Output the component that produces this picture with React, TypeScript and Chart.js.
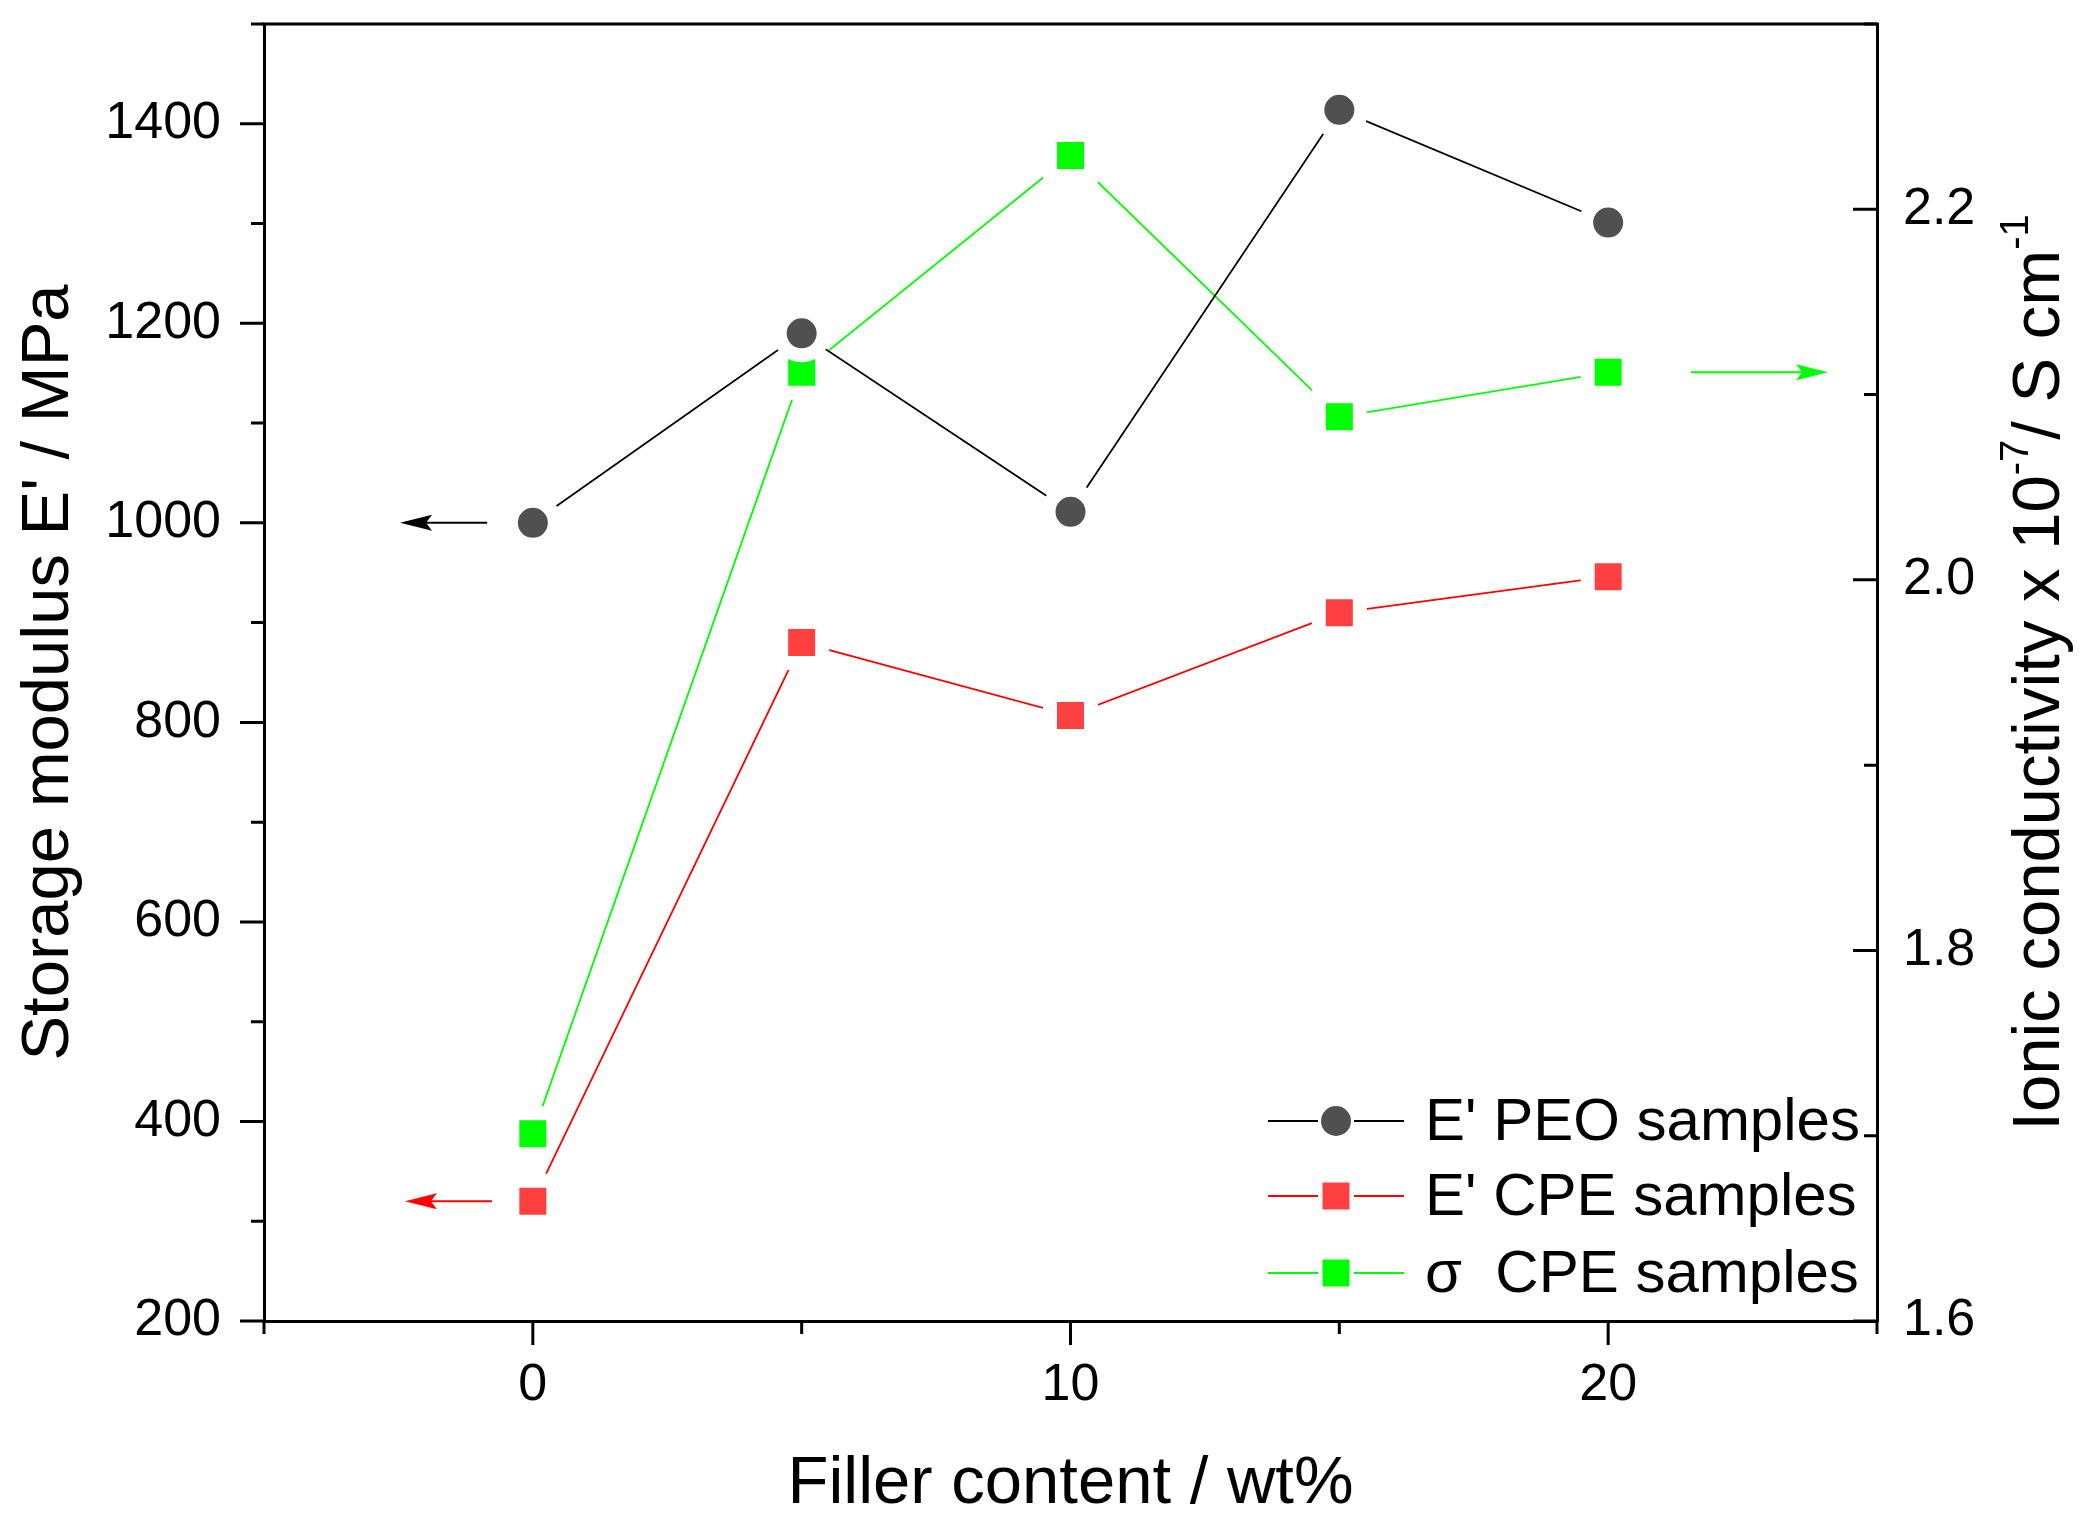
import { useEffect, useRef } from 'react';
import { Chart, registerables } from 'chart.js';

Chart.register(...registerables);

// values
const fillerContent = [0, 5, 10, 15, 20];
const peoModulus = [1000, 1190, 1011, 1414, 1301];
const cpeModulus = [320, 880, 807, 910, 946];
const cpeConductivity = [1.701, 2.112, 2.229, 2.088, 2.112];

const xTickLabels = [0, 10, 20];
const leftTickLabels = [200, 400, 600, 800, 1000, 1200, 1400];
const rightTickLabels = [1.6, 1.8, 2.0, 2.2];

// arrows pointing at the axis each series belongs to (x from / x to)
const arrowFrom = [-0.85, -0.76, 21.54];
const arrowTo = [-2.47, -2.38, 24.09];

const FONT = "'Liberation Sans', Arial, sans-serif";

const seriesStyles = [
    { label: "E' PEO samples", line: '#000000', fill: '#505050', shape: 'circle' },
    { label: "E' CPE samples", line: '#ff0000', fill: '#ff4040', shape: 'rect' },
    { label: 'σ  CPE samples', line: '#00ff00', fill: '#00ff00', shape: 'rect' },
];

const near = (list: number[], v: number) => list.some((t) => Math.abs(t - v) < 1e-6);

const drawMarker = (ctx: CanvasRenderingContext2D, shape: string, x: number, y: number, color: string) => {
    ctx.fillStyle = color;
    ctx.beginPath();
    if (shape === 'circle') ctx.arc(x, y, 15, 0, Math.PI * 2);
    else ctx.rect(x - 13.5, y - 13.5, 27, 27);
    ctx.fill();
};

// no extra room for end labels, the plot box is fixed
const noPad = (s: any) => {
    s.paddingTop = 0;
    s.paddingBottom = 0;
    s.paddingLeft = 0;
    s.paddingRight = 0;
};

const framePlugin = {
    id: 'frame',
    afterDraw(chart: any) {
        const { ctx, chartArea: a, scales } = chart;
        ctx.save();
        ctx.strokeStyle = '#000';
        ctx.lineWidth = 3;
        ctx.lineCap = 'butt';

        // top border
        ctx.beginPath();
        ctx.moveTo(a.left - 1.5, a.top);
        ctx.lineTo(a.right + 1.5, a.top);
        ctx.stroke();

        // tick marks: left & bottom outward, right inward
        ctx.beginPath();
        scales.x.ticks.forEach((t: any) => {
            const px = scales.x.getPixelForValue(t.value);
            const len = near(xTickLabels, t.value) ? 24 : 13;
            ctx.moveTo(px, a.bottom);
            ctx.lineTo(px, a.bottom + len);
        });
        scales.y.ticks.forEach((t: any) => {
            const py = scales.y.getPixelForValue(t.value);
            const len = near(leftTickLabels, t.value) ? 24 : 13;
            ctx.moveTo(a.left, py);
            ctx.lineTo(a.left - len, py);
        });
        scales.y1.ticks.forEach((t: any) => {
            const py = scales.y1.getPixelForValue(t.value);
            const len = near(rightTickLabels, t.value) ? 24 : 13;
            ctx.moveTo(a.right, py);
            ctx.lineTo(a.right - len, py);
        });
        ctx.stroke();

        // arrows
        const arrowY = [
            scales.y.getPixelForValue(peoModulus[0]),
            scales.y.getPixelForValue(cpeModulus[0]),
            scales.y1.getPixelForValue(cpeConductivity[cpeConductivity.length - 1]),
        ];
        arrowY.forEach((py, i) => {
            const x0 = scales.x.getPixelForValue(arrowFrom[i]);
            const x1 = scales.x.getPixelForValue(arrowTo[i]);
            const dir = Math.sign(x1 - x0);
            const color = seriesStyles[i].line;
            ctx.strokeStyle = color;
            ctx.fillStyle = color;
            ctx.lineWidth = 2;
            ctx.beginPath();
            ctx.moveTo(x0, py);
            ctx.lineTo(x1 - dir * 20, py);
            ctx.stroke();
            ctx.beginPath();
            ctx.moveTo(x1, py);
            ctx.lineTo(x1 - dir * 32, py - 8);
            ctx.lineTo(x1 - dir * 26, py);
            ctx.lineTo(x1 - dir * 32, py + 8);
            ctx.closePath();
            ctx.fill();
        });

        // legend inside the plot, lower right
        const legendX = a.left + 1004;
        const rowY = [a.bottom - 200, a.bottom - 125, a.bottom - 48];
        ctx.font = `60px ${FONT}`;
        ctx.textBaseline = 'middle';
        ctx.textAlign = 'left';
        seriesStyles.forEach((s, i) => {
            const y = rowY[i];
            ctx.strokeStyle = s.line;
            ctx.lineWidth = 2;
            ctx.beginPath();
            ctx.moveTo(legendX, y);
            ctx.lineTo(legendX + 50, y);
            ctx.moveTo(legendX + 86, y);
            ctx.lineTo(legendX + 136, y);
            ctx.stroke();
            drawMarker(ctx, s.shape, legendX + 68, y, s.fill);
            ctx.fillStyle = '#000';
            ctx.fillText(s.label, legendX + 157, y + 2);
        });

        // right axis title, read bottom to top, with superscripts
        const parts: [string, boolean][] = [
            ['Ionic conductivity x 10', false],
            ['-7', true],
            ['/ S cm', false],
            ['-1', true],
        ];
        const main = `67px ${FONT}`;
        const sup = `40px ${FONT}`;
        let total = 0;
        parts.forEach(([txt, isSup]) => {
            ctx.font = isSup ? sup : main;
            total += ctx.measureText(txt).width;
        });
        ctx.translate(2041, (a.top + a.bottom) / 2);
        ctx.rotate(-Math.PI / 2);
        ctx.fillStyle = '#000';
        ctx.textBaseline = 'middle';
        let cx = -total / 2;
        parts.forEach(([txt, isSup]) => {
            ctx.font = isSup ? sup : main;
            ctx.fillText(txt, cx, isSup ? -24 : 0);
            cx += ctx.measureText(txt).width;
        });
        ctx.restore();
    },
};

const App: React.FC = () => {
    const canvasRef = useRef<HTMLCanvasElement | null>(null);

    useEffect(() => {
        const ctx = canvasRef.current?.getContext('2d');
        if (!ctx) return;

        const values = [peoModulus, cpeModulus, cpeConductivity];
        const datasets = seriesStyles.map((s, i) => ({
            label: s.label,
            data: fillerContent.map((x, j) => ({ x, y: values[i][j] })),
            yAxisID: i === 2 ? 'y1' : 'y',
            borderColor: s.line,
            borderWidth: 1.8,
            backgroundColor: s.fill,
            pointStyle: s.shape,
            pointRadius: s.shape === 'circle' ? 22 : 29,
            pointBackgroundColor: s.fill,
            pointBorderColor: '#ffffff',
            pointBorderWidth: 14,
            tension: 0,
            fill: false,
        }));

        const tickFont = { family: FONT, size: 52 };
        const titleFont = { family: FONT, size: 67, lineHeight: 1 };

        const chart = new Chart(ctx, {
            type: 'line',
            data: { datasets: datasets as any },
            options: {
                animation: false,
                responsive: false,
                devicePixelRatio: 1,
                events: [],
                layout: { autoPadding: false, padding: { top: 24, left: 0, right: 0, bottom: 0 } },
                plugins: {
                    legend: { display: false },
                    tooltip: { enabled: false },
                },
                scales: {
                    x: {
                        type: 'linear',
                        position: 'bottom',
                        min: -5,
                        max: 25,
                        ticks: {
                            stepSize: 5,
                            autoSkip: false,
                            maxRotation: 0,
                            padding: 33,
                            color: '#000',
                            font: tickFont,
                            callback: (v: any) => (near(xTickLabels, Number(v)) ? String(v) : ''),
                        },
                        grid: { display: false, drawTicks: false },
                        border: { display: true, width: 3, color: '#000' },
                        title: {
                            display: true,
                            text: 'Filler content / wt%',
                            color: '#000',
                            font: titleFont,
                            padding: { top: 0, bottom: 17 },
                        },
                        afterFit: (s: any) => {
                            s.height = 214;
                            noPad(s);
                        },
                    },
                    y: {
                        type: 'linear',
                        position: 'left',
                        min: 200,
                        max: 1500,
                        ticks: {
                            stepSize: 100,
                            autoSkip: false,
                            padding: 43,
                            color: '#000',
                            font: tickFont,
                            callback: (v: any) => (near(leftTickLabels, Number(v)) ? String(v) : ''),
                        },
                        grid: { display: false, drawTicks: false },
                        border: { display: true, width: 3, color: '#000' },
                        title: {
                            display: true,
                            text: "Storage modulus E' / MPa",
                            color: '#000',
                            font: titleFont,
                            padding: { top: 16, bottom: 0 },
                        },
                        afterFit: (s: any) => {
                            s.width = 264;
                            noPad(s);
                        },
                    },
                    y1: {
                        type: 'linear',
                        position: 'right',
                        min: 1.6,
                        max: 2.3,
                        ticks: {
                            stepSize: 0.1,
                            autoSkip: false,
                            padding: 26,
                            color: '#000',
                            font: tickFont,
                            callback: (v: any) => (near(rightTickLabels, Number(v)) ? Number(v).toFixed(1) : ''),
                        },
                        grid: { display: false, drawTicks: false },
                        border: { display: true, width: 3, color: '#000' },
                        afterFit: (s: any) => {
                            s.width = 215;
                            noPad(s);
                        },
                    },
                },
            },
            plugins: [framePlugin],
        });

        return () => {
            chart.destroy();
        };
    }, []);

    return (
        <div style={{ position: 'fixed', left: 0, top: 0, width: 2092, height: 1535, background: '#fff' }}>
            <canvas ref={canvasRef} width={2092} height={1535} style={{ width: 2092, height: 1535 }}></canvas>
        </div>
    );
};

export default App;
